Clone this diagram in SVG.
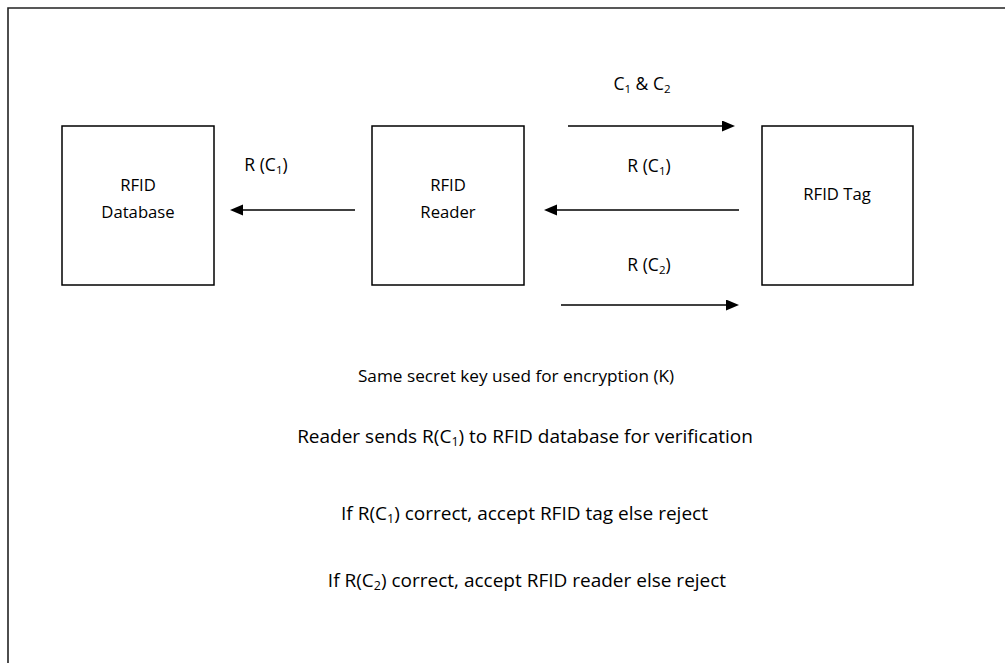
<svg xmlns="http://www.w3.org/2000/svg" width="1005" height="663" viewBox="0 0 1005 663">
  <style>
    .box { fill: #fff; stroke: #000; stroke-width: 1.5; }
    .frame { fill: none; stroke: #222; stroke-width: 1.6; }
    .conn { stroke: #000; stroke-width: 1.4; fill: none; marker-end: url(#head); }
    text { font-family: "Open Sans", "Noto Sans", sans-serif; fill: #000; text-anchor: middle; }
    .lbl { font-size: 16.7px; }
    .arr { font-size: 17.5px; }
    .note { font-size: 17.2px; }
    .big { font-size: 19px; }
  </style>
  <defs>
    <marker id="head" markerUnits="userSpaceOnUse" markerWidth="14" markerHeight="12" refX="5" refY="5.5" orient="auto">
      <path d="M0,0 L13,5.5 L0,11 z" fill="#000"/>
    </marker>
  </defs>
  <rect width="1005" height="663" fill="#fff"/>

  <!-- page frame (top and left edges only) -->
  <path class="frame" d="M8,663 L8,8 L1005,8"/>

  <g id="node-database">
    <rect class="box" x="62" y="126" width="152" height="159"/>
    <text class="lbl" x="138" y="191">RFID</text>
    <text class="lbl" x="138" y="218">Database</text>
  </g>

  <g id="node-reader">
    <rect class="box" x="372" y="126" width="152" height="159"/>
    <text class="lbl" x="448" y="191">RFID</text>
    <text class="lbl" x="448" y="218">Reader</text>
  </g>

  <g id="node-tag">
    <rect class="box" x="762" y="126" width="151" height="159"/>
    <text class="lbl" x="837" y="200">RFID Tag</text>
  </g>

  <g id="connectors">
    <line class="conn" x1="355" y1="210" x2="238" y2="210"/>
    <line class="conn" x1="568" y1="126" x2="727" y2="126"/>
    <line class="conn" x1="739" y1="210" x2="552" y2="210"/>
    <line class="conn" x1="561" y1="305" x2="731" y2="305"/>
  </g>

  <g id="connector-labels">
    <text class="arr" x="266" y="171">R (C<tspan font-size="11.5" dy="3">1</tspan><tspan dy="-3">)</tspan></text>
    <text class="arr" x="642" y="90">C<tspan font-size="11.5" dy="3">1</tspan><tspan dy="-3"> &amp; C</tspan><tspan font-size="11.5" dy="3">2</tspan></text>
    <text class="arr" x="649" y="172">R (C<tspan font-size="11.5" dy="3">1</tspan><tspan dy="-3">)</tspan></text>
    <text class="arr" x="649" y="271">R (C<tspan font-size="11.5" dy="3">2</tspan><tspan dy="-3">)</tspan></text>
  </g>

  <g id="notes">
    <text class="note" x="516" y="382">Same secret key used for encryption (K)</text>
    <text class="big" x="525" y="443">Reader sends R(C<tspan font-size="12.5" dy="3">1</tspan><tspan dy="-3">) to RFID database for verification</tspan></text>
    <text class="big" x="524.5" y="520">If R(C<tspan font-size="12.5" dy="3">1</tspan><tspan dy="-3">) correct, accept RFID tag else reject</tspan></text>
    <text class="big" x="527" y="587">If R(C<tspan font-size="12.5" dy="3">2</tspan><tspan dy="-3">) correct, accept RFID reader else reject</tspan></text>
  </g>
</svg>
